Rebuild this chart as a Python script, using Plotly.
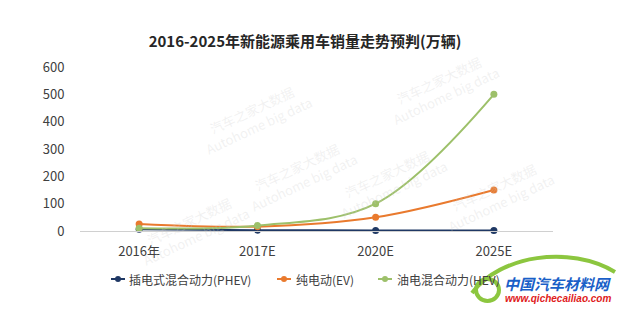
import plotly.graph_objects as go

categories = ["2016年", "2017E", "2020E", "2025E"]
phev = [6, 3, 2, 2]
ev = [26, 16, 50, 150]
hev = [10, 20, 100, 500]
series_names = ["插电式混合动力(PHEV)", "纯电动(EV)", "油电混合动力(HEV)"]
colors = ["#1F3864", "#E97A2E", "#9DC06A"]
y_ticks = [0, 100, 200, 300, 400, 500, 600]
title = "2016-2025年新能源乘用车销量走势预判(万辆)"

FONT = "Noto Sans CJK SC"
L, R, T, B = 80, 553, 67, 231


def px(x):
    return (x - L) / (R - L)


def py(y):
    return (B - y) / (B - T)


fig = go.Figure()
for name, vals, col in zip(series_names, [phev, ev, hev], colors):
    fig.add_trace(go.Scatter(
        x=categories, y=vals, name=name, mode="lines+markers",
        line=dict(color=col, width=2, shape="spline", smoothing=1),
        marker=dict(color=col, size=7),
        cliponaxis=False, showlegend=False,
    ))

# faint watermarks
wm = [(255, 75), (505, 45), (300, 175), (130, 272), (390, 225), (560, 238)]
for (wx, wy) in wm:
    fig.add_annotation(xref="paper", yref="paper", x=px(wx), y=py(wy),
                       text="汽车之家大数据<br>Autohome big data",
                       showarrow=False, textangle=-25,
                       font=dict(family=FONT, size=13, color="rgba(205,205,205,0.28)"))

# custom legend
legend_icon_x = [111, 277, 378]
legend_text_x = [127, 294, 395]
legend_y = 279
for name, col, ix, tx in zip(series_names, colors, legend_icon_x, legend_text_x):
    fig.add_shape(type="line", xref="paper", yref="paper",
                  x0=px(ix), x1=px(ix + 14), y0=py(legend_y), y1=py(legend_y),
                  line=dict(color=col, width=2))
    fig.add_shape(type="circle", xref="paper", yref="paper",
                  x0=px(ix + 4), x1=px(ix + 10), y0=py(legend_y + 3), y1=py(legend_y - 3),
                  fillcolor=col, line=dict(color=col, width=0))
    fig.add_annotation(xref="paper", yref="paper", x=px(tx), y=py(legend_y),
                       xanchor="left", yanchor="middle", text=name, showarrow=False,
                       font=dict(family=FONT, size=12, color="#404040"))

# logo
fig.add_shape(type="path", xref="paper", yref="paper",
              path="M %f %f C %f %f %f %f %f %f" % (px(472), py(293), px(500), py(255),
                                                    px(570), py(245), px(615), py(272)),
              line=dict(color="#8CC63F", width=4))
fig.add_shape(type="circle", xref="paper", yref="paper",
              x0=px(476), x1=px(499), y0=py(301), y1=py(279),
              line=dict(color="#8CC63F", width=4))
fig.add_annotation(xref="paper", yref="paper", x=px(613), y=py(283),
                   xanchor="right", yanchor="middle",
                   text="<b><i>中国汽车材料网</i></b>", showarrow=False,
                   font=dict(family=FONT, size=15, color="#1A5FC8"))
fig.add_annotation(xref="paper", yref="paper", x=px(613), y=py(298),
                   xanchor="right", yanchor="middle",
                   text="<b><i>www.qichecailiao.com</i></b>", showarrow=False,
                   font=dict(family="Liberation Sans", size=10, color="#E02020"))

fig.update_layout(
    width=620, height=310,
    margin=dict(l=L, r=620 - R, t=T, b=310 - B),
    paper_bgcolor="white", plot_bgcolor="white",
    title=dict(text="<b>" + title + "</b>", x=305 / 620, xanchor="center",
               y=1 - 42 / 310, yanchor="middle",
               font=dict(family=FONT, size=15, color="#262626")),
    font=dict(family=FONT, size=13, color="#404040"),
    showlegend=False,
    xaxis=dict(type="category", range=[-0.5, 3.5], showgrid=False,
               showline=True, linecolor="#D0D0D0", linewidth=1,
               ticks="outside", ticklen=8, tickcolor="rgba(0,0,0,0)",
               tickfont=dict(family=FONT, size=13, color="#404040"), zeroline=False),
    yaxis=dict(range=[0, 600], tickvals=y_ticks, showgrid=False, zeroline=False,
               showline=False, ticks="outside", ticklen=12, tickcolor="rgba(0,0,0,0)",
               tickfont=dict(family=FONT, size=13, color="#404040")),
)

fig.write_html("out.html")
